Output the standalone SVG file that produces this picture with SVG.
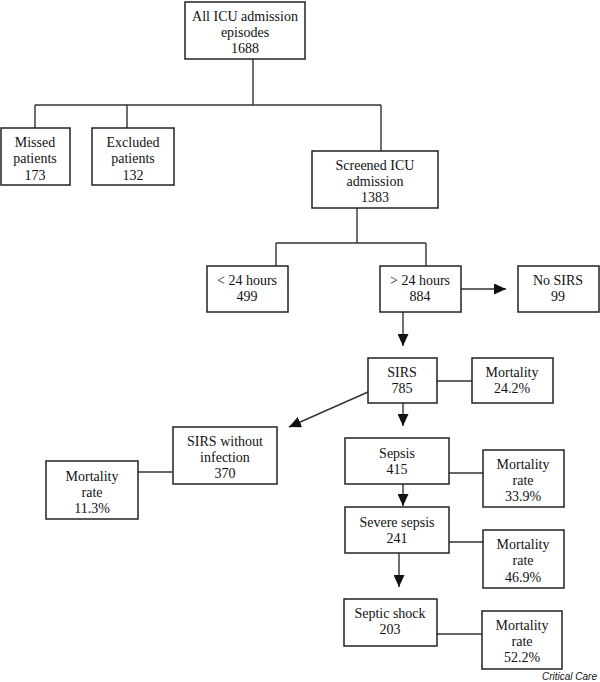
<svg xmlns="http://www.w3.org/2000/svg" width="600" height="682" viewBox="0 0 600 682">
<defs>
<style>
.box{fill:#fff;stroke:#222;stroke-width:1.5}
.ln{fill:none;stroke:#333;stroke-width:1.4}
.t{font-family:"Liberation Serif","Times New Roman",serif;font-size:14px;fill:#111;text-anchor:middle}
.cc{font-family:"Liberation Sans",Arial,sans-serif;font-size:10px;font-style:italic;fill:#111;text-anchor:end}
</style>
<marker id="ah" markerUnits="userSpaceOnUse" markerWidth="12" markerHeight="11" refX="12" refY="5.5" orient="auto">
<path d="M0,0 L12,5.5 L0,11 Z" fill="#111"/>
</marker>
</defs>
<rect width="600" height="682" fill="#fff"/>
<g id="connectors">
<path class="ln" d="M253,59 V105 M35,105 H381 M35,105 V128 M127,105 V128 M381,105 V151"/>
<path class="ln" d="M357,208 V243 M276,243 H426 M276,243 V266 M426,243 V266"/>
<path class="ln" d="M461,289 H506" marker-end="url(#ah)"/>
<path class="ln" d="M403,312 V346" marker-end="url(#ah)"/>
<path class="ln" d="M437,381 H472"/>
<path class="ln" d="M368,392 L289,427" marker-end="url(#ah)"/>
<path class="ln" d="M138,472 H173"/>
<path class="ln" d="M403,403 V426" marker-end="url(#ah)"/>
<path class="ln" d="M449,473 H483"/>
<path class="ln" d="M403,484 V506" marker-end="url(#ah)"/>
<path class="ln" d="M449,542 H483"/>
<path class="ln" d="M399,553 V587" marker-end="url(#ah)"/>
<path class="ln" d="M437,634 H482"/>
</g>
<g id="all"><rect class="box" x="185" y="2" width="120" height="57"/>
<text class="t" x="245" y="21">All ICU admission</text><text class="t" x="245" y="37">episodes</text><text class="t" x="245" y="53">1688</text></g>
<g id="missed"><rect class="box" x="1" y="128" width="69" height="57"/>
<text class="t" x="35" y="147">Missed</text><text class="t" x="35" y="163">patients</text><text class="t" x="35" y="180">173</text></g>
<g id="excluded"><rect class="box" x="92" y="128" width="82" height="57"/>
<text class="t" x="133" y="147">Excluded</text><text class="t" x="133" y="163">patients</text><text class="t" x="133" y="180">132</text></g>
<g id="screened"><rect class="box" x="312" y="151" width="126" height="57"/>
<text class="t" x="375" y="170">Screened ICU</text><text class="t" x="375" y="186">admission</text><text class="t" x="375" y="202">1383</text></g>
<g id="lt24"><rect class="box" x="207" y="266" width="81" height="46"/>
<text class="t" x="247" y="285">&lt; 24 hours</text><text class="t" x="247" y="301">499</text></g>
<g id="gt24"><rect class="box" x="380" y="266" width="81" height="46"/>
<text class="t" x="420" y="285">&gt; 24 hours</text><text class="t" x="420" y="301">884</text></g>
<g id="nosirs"><rect class="box" x="518" y="266" width="81" height="46"/>
<text class="t" x="558" y="285">No SIRS</text><text class="t" x="558" y="301">99</text></g>
<g id="sirs"><rect class="box" x="368" y="358" width="69" height="45"/>
<text class="t" x="402" y="377">SIRS</text><text class="t" x="402" y="393">785</text></g>
<g id="mort242"><rect class="box" x="472" y="358" width="81" height="45"/>
<text class="t" x="512" y="377">Mortality</text><text class="t" x="512" y="393">24.2%</text></g>
<g id="sirsnoinf"><rect class="box" x="173" y="427" width="104" height="57"/>
<text class="t" x="225" y="446">SIRS without</text><text class="t" x="225" y="462">infection</text><text class="t" x="225" y="478">370</text></g>
<g id="mort113"><rect class="box" x="46" y="461" width="92" height="58"/>
<text class="t" x="92" y="481">Mortality</text><text class="t" x="92" y="497">rate</text><text class="t" x="92" y="513">11.3%</text></g>
<g id="sepsis"><rect class="box" x="345" y="438" width="104" height="46"/>
<text class="t" x="397" y="458">Sepsis</text><text class="t" x="397" y="474">415</text></g>
<g id="mort339"><rect class="box" x="483" y="450" width="81" height="57"/>
<text class="t" x="523" y="469">Mortality</text><text class="t" x="523" y="485">rate</text><text class="t" x="523" y="501">33.9%</text></g>
<g id="severe"><rect class="box" x="345" y="507" width="104" height="46"/>
<text class="t" x="397" y="527">Severe sepsis</text><text class="t" x="397" y="543">241</text></g>
<g id="mort469"><rect class="box" x="483" y="530" width="81" height="58"/>
<text class="t" x="523" y="549">Mortality</text><text class="t" x="523" y="565">rate</text><text class="t" x="523" y="582">46.9%</text></g>
<g id="shock"><rect class="box" x="344" y="599" width="93" height="47"/>
<text class="t" x="390" y="618">Septic shock</text><text class="t" x="390" y="634">203</text></g>
<g id="mort522"><rect class="box" x="482" y="611" width="80" height="58"/>
<text class="t" x="522" y="630">Mortality</text><text class="t" x="522" y="646">rate</text><text class="t" x="522" y="662">52.2%</text></g>
<text class="cc" x="597" y="680">Critical Care</text>
</svg>
